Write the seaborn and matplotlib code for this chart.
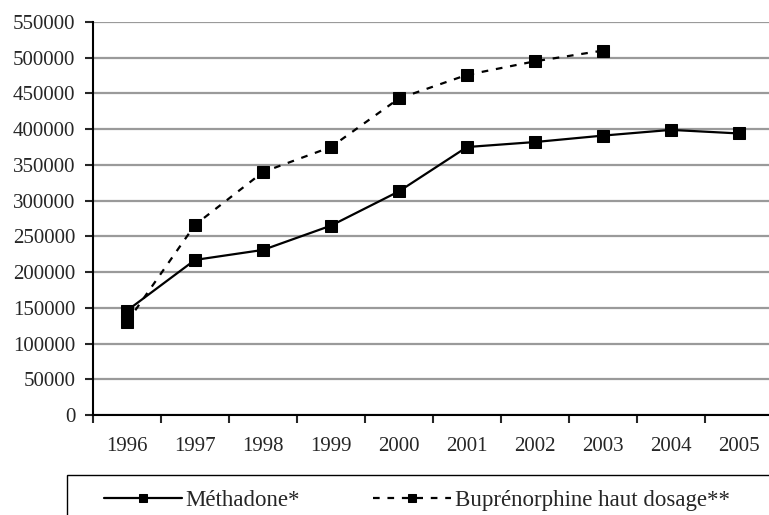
import matplotlib
matplotlib.use('Agg')
import matplotlib.pyplot as plt
import seaborn as sns
from matplotlib.patches import Rectangle
from matplotlib.ticker import FixedLocator, NullFormatter

years = [1996, 1997, 1998, 1999, 2000, 2001, 2002, 2003, 2004, 2005]
methadone = [146000, 217000, 231000, 265000, 313000, 375000, 382000, 391000, 399000, 394000]
bup_years = [1996, 1997, 1998, 1999, 2000, 2001, 2002, 2003]
buprenorphine = [130000, 266000, 340000, 375000, 443000, 476000, 495000, 510000]
y_ticks = list(range(0, 550001, 50000))

sns.set_style('white')
plt.rcParams['font.family'] = ['Liberation Serif', 'DejaVu Serif']
plt.rcParams['font.size'] = 15

fig = plt.figure(figsize=(7.69, 5.15), dpi=100)
ax = fig.add_axes([0.1209, 0.1942, 0.8843, 0.7631])

ax.yaxis.grid(True, color='#9a9a9a', lw=1.6)
ax.set_axisbelow(True)

sns.lineplot(x=years, y=methadone, ax=ax, color='black', lw=1.6,
             marker='s', markersize=8, markeredgecolor='black',
             label='Méthadone*')
sns.lineplot(x=bup_years, y=buprenorphine, ax=ax, color='black', lw=1.6,
             linestyle=(0, (3, 3.5)), marker='s', markersize=8,
             markeredgecolor='black', label='Buprénorphine haut dosage**')

ax.set_xlim(years[0] - 0.5, years[-1] + 0.5)
ax.set_ylim(0, 550000)
ax.set_yticks(y_ticks)
ax.set_yticklabels([str(v) for v in y_ticks])

# year labels between boundary ticks
ax.xaxis.set_major_locator(FixedLocator([y - 0.5 for y in years] + [years[-1] + 0.5]))
ax.xaxis.set_major_formatter(NullFormatter())
ax.xaxis.set_minor_locator(FixedLocator(years))
ax.set_xticklabels([str(y) for y in years], minor=True)
ax.tick_params(axis='x', which='major', length=6, width=1.5, direction='out', bottom=True)
ax.tick_params(axis='x', which='minor', length=0, pad=16, labelsize=15)
ax.tick_params(axis='y', length=5.8, width=1.5, direction='out', left=True, pad=7, labelsize=15)
ax.set_xlabel('')
ax.set_ylabel('')

for side in ['top', 'right']:
    ax.spines[side].set_visible(False)
for side in ['left', 'bottom']:
    ax.spines[side].set_color('black')
    ax.spines[side].set_linewidth(1.5)

handles, labels = ax.get_legend_handles_labels()
ax.get_legend().remove()
fig.patches.append(Rectangle((66.5 / 769, -0.1), 0.95, 1 - 475 / 515 + 0.1,
                             transform=fig.transFigure, fill=False,
                             edgecolor='black', lw=1.0))
fig.legend(handles, labels, ncol=2, frameon=False, loc='center left',
           bbox_to_anchor=(104 / 769, 1 - 500 / 515), handlelength=3.4,
           handletextpad=0.15, columnspacing=3.2, markerscale=0.8,
           borderpad=0, borderaxespad=0, fontsize=16.5)

fig.savefig('out.png', dpi=100)
